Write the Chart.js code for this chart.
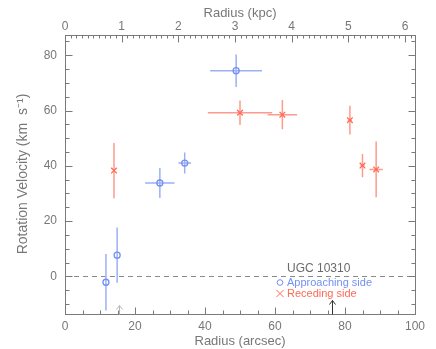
<!DOCTYPE html>
<html><head><meta charset="utf-8">
<script src="https://cdn.jsdelivr.net/npm/chart.js@4/dist/chart.umd.min.js"></script>
<style>html,body{margin:0;padding:0;background:#fff}#c{display:block}</style>
</head><body>
<canvas id="c" width="436" height="349"></canvas>
<script>
// Approaching side
const appR    = [11.7, 14.9, 27.1, 34.2, 48.9];
const appV    = [-2.1, 7.7, 33.8, 41.0, 74.4];
const appRerr = [0, 0, 4.2, 1.8, 7.4];
const appVerr = [10.2, 10.0, 5.4, 3.8, 5.9];
// Receding side
const recR    = [14.0, 50.0, 62.1, 81.4, 85.0, 88.9];
const recV    = [38.3, 59.2, 58.5, 56.5, 40.1, 38.7];
const recRerr = [0, 9.2, 4.2, 0.6, 0.6, 1.9];
const recVerr = [10.0, 4.4, 5.3, 5.2, 4.2, 10.1];
// arrows marking radii
const arrowR = [15.4, 76.4];
const arrowColors = ['#b8b8b8', '#333333'];
// ticks
const xTicks = [0, 20, 40, 60, 80, 100];
const kpcTicks = [0, 1, 2, 3, 4, 5, 6];
const yTicks = [0, 20, 40, 60, 80];
const arcsecPerKpc = 16.19;
const xMin = 0, xMax = 100, yMin = -13.4, yMax = 87.5;

const BLUE = '#7290f2', BLUE_BAR = '#9cb0f5';
const RED = '#ff6a55', RED_BAR = '#ff9a8c';
const AX = '#7a7a7a', TXT = '#777777';
const FONT = 'Liberation Sans';

function pts(r, v) { return r.map((x, i) => ({x: x, y: v[i]})); }

const framePlugin = {
  id: 'frame',
  beforeDatasetsDraw(chart) {
    const ctx = chart.ctx, xs = chart.scales.x, ys = chart.scales.y, a = chart.chartArea;
    ctx.save();
    ctx.strokeStyle = '#8a8a8a'; ctx.lineWidth = 1; ctx.setLineDash([5, 4]);
    const y0 = Math.round(ys.getPixelForValue(0)) + 0.5;
    ctx.beginPath(); ctx.moveTo(a.left, y0); ctx.lineTo(a.right, y0); ctx.stroke();
    ctx.restore();
    const bars = (R, V, Re, Ve, col) => {
      ctx.save(); ctx.strokeStyle = col; ctx.lineWidth = 1.5;
      R.forEach((r, i) => {
        const px = xs.getPixelForValue(r), py = ys.getPixelForValue(V[i]);
        ctx.beginPath();
        ctx.moveTo(px, ys.getPixelForValue(V[i] - Ve[i])); ctx.lineTo(px, ys.getPixelForValue(V[i] + Ve[i]));
        if (Re[i] > 0) { ctx.moveTo(xs.getPixelForValue(r - Re[i]), py); ctx.lineTo(xs.getPixelForValue(r + Re[i]), py); }
        ctx.stroke();
      });
      ctx.restore();
    };
    bars(appR, appV, appRerr, appVerr, BLUE_BAR);
    bars(recR, recV, recRerr, recVerr, RED_BAR);
  },
  afterDraw(chart) {
    const ctx = chart.ctx, xs = chart.scales.x, xt = chart.scales.xt, ys = chart.scales.y, a = chart.chartArea;
    ctx.save();
    ctx.strokeStyle = AX; ctx.lineWidth = 1;
    const L = Math.round(a.left) + 0.5, R = Math.round(a.right) + 0.5, T = Math.round(a.top) + 0.5, B = Math.round(a.bottom) + 0.5;
    ctx.strokeRect(L, T, R - L, B - T);
    ctx.beginPath();
    for (let v = xMin; v <= xMax + 1e-9; v += 5) {
      const p = Math.round(xs.getPixelForValue(v)) + 0.5;
      const len = xTicks.includes(v) ? 7 : 4;
      ctx.moveTo(p, B); ctx.lineTo(p, B - len);
    }
    for (let k = 0; k <= 62; k++) {
      const v = k / 10; if (v > xt.max) break;
      const p = Math.round(xt.getPixelForValue(v)) + 0.5;
      const len = (k % 10 === 0) ? 7 : 3;
      ctx.moveTo(p, T); ctx.lineTo(p, T + len);
    }
    for (let v = -10; v <= 85; v += 5) {
      const p = Math.round(ys.getPixelForValue(v)) + 0.5;
      const len = yTicks.includes(v) ? 7 : 4;
      ctx.moveTo(L, p); ctx.lineTo(L + len, p);
      ctx.moveTo(R, p); ctx.lineTo(R - len, p);
    }
    ctx.stroke();
    arrowR.forEach((r, i) => {
      const p = Math.round(xs.getPixelForValue(r)) + 0.5;
      const len = i === 0 ? 9 : 14;
      ctx.strokeStyle = arrowColors[i]; ctx.beginPath();
      ctx.moveTo(p, B); ctx.lineTo(p, B - len);
      ctx.moveTo(p - 3, B - len + 4); ctx.lineTo(p, B - len); ctx.lineTo(p + 3, B - len + 4);
      ctx.stroke();
    });
    // legend
    ctx.textBaseline = 'middle'; ctx.textAlign = 'left';
    ctx.font = '12px "' + FONT + '"'; ctx.fillStyle = '#6a6a6a';
    ctx.fillText('UGC 10310', 287, 268.5);
    ctx.font = '11px "' + FONT + '"';
    ctx.strokeStyle = BLUE; ctx.lineWidth = 1;
    ctx.beginPath(); ctx.arc(280, 282.5, 2.8, 0, Math.PI * 2); ctx.stroke();
    ctx.fillStyle = BLUE; ctx.fillText('Approaching side', 287, 283);
    ctx.strokeStyle = RED;
    ctx.beginPath(); ctx.moveTo(276.5, 290); ctx.lineTo(283.5, 297); ctx.moveTo(283.5, 290); ctx.lineTo(276.5, 297); ctx.stroke();
    ctx.fillStyle = RED; ctx.fillText('Receding side', 287, 294);
    ctx.restore();
  }
};

new Chart(document.getElementById('c'), {
  type: 'scatter',
  data: {
    datasets: [
      { label: 'Approaching side', data: pts(appR, appV), pointStyle: 'circle', pointRadius: 3,
        borderColor: BLUE, backgroundColor: 'rgba(0,0,0,0)', borderWidth: 1.3, xAxisID: 'x', yAxisID: 'y' },
      { label: 'Receding side', data: pts(recR, recV), pointStyle: 'crossRot', pointRadius: 4,
        borderColor: RED, backgroundColor: RED, borderWidth: 1.3, xAxisID: 'x', yAxisID: 'y' }
    ]
  },
  options: {
    responsive: false, animation: false, devicePixelRatio: 1,
    layout: { padding: { left: 0, right: 21, top: 0, bottom: 0 } },
    plugins: { legend: { display: false }, tooltip: { enabled: false } },
    scales: {
      x: {
        type: 'linear', position: 'bottom', min: xMin, max: xMax,
        afterBuildTicks: s => { s.ticks = xTicks.map(v => ({value: v})); },
        afterFit: s => { s.height = 35.5; },
        grid: { display: false, drawTicks: false }, border: { display: false },
        ticks: { color: TXT, font: { family: FONT, size: 12 }, padding: 6, maxRotation: 0 },
        title: { display: true, text: 'Radius (arcsec)', color: TXT, font: { family: FONT, size: 13 }, padding: { top: 0, bottom: 0 } }
      },
      xt: {
        type: 'linear', position: 'top', min: xMin / arcsecPerKpc, max: xMax / arcsecPerKpc,
        afterBuildTicks: s => { s.ticks = kpcTicks.map(v => ({value: v})); },
        afterFit: s => { s.height = 34.5; },
        grid: { display: false, drawTicks: false }, border: { display: false },
        ticks: { color: TXT, font: { family: FONT, size: 12 }, padding: 1, maxRotation: 0 },
        title: { display: true, text: 'Radius (kpc)', color: TXT, font: { family: FONT, size: 13 }, padding: { top: 6, bottom: 0 } }
      },
      y: {
        type: 'linear', position: 'left', min: yMin, max: yMax,
        afterBuildTicks: s => { s.ticks = yTicks.map(v => ({value: v})); },
        afterFit: s => { s.width = 65; },
        grid: { display: false, drawTicks: false }, border: { display: false },
        ticks: { color: TXT, font: { family: FONT, size: 12 }, padding: 8 },
        title: { display: true, text: 'Rotation Velocity (km  s\u207B\u00B9)', color: TXT, font: { family: FONT, size: 14 }, padding: { top: 15, bottom: 0 } }
      }
    }
  },
  plugins: [framePlugin]
});
</script>
</body></html>
